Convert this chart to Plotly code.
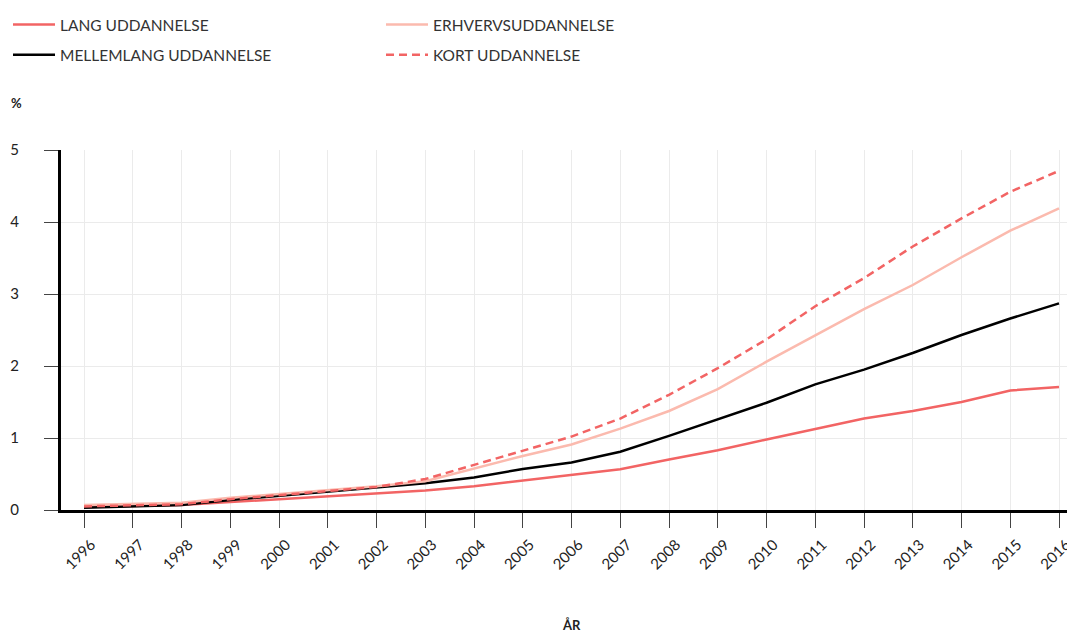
import plotly.graph_objects as go

years = list(range(1996, 2017))
lang = [0.04, 0.06, 0.07, 0.11, 0.15, 0.19, 0.23, 0.27, 0.33, 0.41, 0.49, 0.565, 0.70, 0.83, 0.98, 1.13, 1.27, 1.375, 1.50, 1.66, 1.71]
mellemlang = [0.03, 0.05, 0.07, 0.14, 0.20, 0.26, 0.31, 0.37, 0.45, 0.57, 0.66, 0.81, 1.03, 1.26, 1.49, 1.745, 1.95, 2.18, 2.43, 2.66, 2.87]
erhverv = [0.07, 0.09, 0.10, 0.17, 0.22, 0.28, 0.33, 0.40, 0.58, 0.75, 0.91, 1.13, 1.375, 1.68, 2.06, 2.42, 2.79, 3.125, 3.51, 3.88, 4.19]
kort = [0.05, 0.07, 0.08, 0.15, 0.21, 0.27, 0.32, 0.43, 0.625, 0.83, 1.02, 1.27, 1.60, 1.97, 2.37, 2.83, 3.22, 3.66, 4.05, 4.42, 4.71]

RED = "#f26464"
PINK = "#fbbaae"
FONT = "Lato"

# page body has an 8px default margin; compensate so the figure fills the window
OFF = 8
W, H = 1075 - OFF, 635 - OFF

fig = go.Figure()
fig.add_trace(go.Scatter(x=years, y=lang, mode="lines", name="LANG UDDANNELSE",
                         line=dict(color=RED, width=2.5), legend="legend", legendgroup="a"))
fig.add_trace(go.Scatter(x=years, y=mellemlang, mode="lines", name="MELLEMLANG UDDANNELSE",
                         line=dict(color="#000000", width=2.5), legend="legend", legendgroup="b"))
fig.add_trace(go.Scatter(x=years, y=erhverv, mode="lines", name="ERHVERVSUDDANNELSE",
                         line=dict(color=PINK, width=2.5), legend="legend2", legendgroup="c"))
fig.add_trace(go.Scatter(x=years, y=kort, mode="lines", name="KORT UDDANNELSE",
                         line=dict(color=RED, width=2.5, dash="8px,5px"), legend="legend2", legendgroup="d"))

legend_common = dict(
    xref="container", yref="container", xanchor="left", yanchor="top",
    orientation="v", traceorder="grouped", tracegroupgap=7,
    font=dict(family=FONT, size=15.5, color="#333333"),
    bgcolor="rgba(0,0,0,0)", itemwidth=42,
)

L, T, B = 61 - OFF, 150 - OFF, 125
PW = W - L
PH = H - T - B

def px(xp):
    return (xp - OFF - L) / PW

def py(yp):
    return (H - B - (yp - OFF)) / PH

LEG_Y = 1.0 + 4 / H

fig.update_layout(
    width=W, height=H,
    margin=dict(l=L, r=0, t=T, b=B, autoexpand=False),
    paper_bgcolor="white", plot_bgcolor="white",
    font=dict(family=FONT, size=14, color="#222222"),
    showlegend=True,
    legend=dict(x=0.0, y=LEG_Y, **legend_common),
    legend2=dict(x=(385 - 12) / W, y=LEG_Y, **legend_common),
    xaxis=dict(
        range=[1995.528, 2016.328],
        tickmode="array", tickvals=years, ticktext=[str(y) for y in years],
        tickangle=-45, ticks="outside", ticklen=15, tickwidth=1, tickcolor="#444444",
        showgrid=True, gridcolor="#ebebeb", gridwidth=1,
        showline=True, linecolor="#000000", linewidth=3,
        zeroline=False, ticklabelstandoff=2, ticklabelshift=7,
        tickfont=dict(family=FONT, size=15, color="#222222"),
    ),
    yaxis=dict(
        range=[0, 5], tickvals=[0, 1, 2, 3, 4, 5],
        ticks="outside", ticklen=14, tickwidth=1, tickcolor="#444444",
        showgrid=True, gridcolor="#ebebeb", gridwidth=1,
        showline=True, linecolor="#000000", linewidth=3,
        zeroline=False, ticklabelstandoff=22,
        tickfont=dict(family=FONT, size=15, color="#222222"),
    ),
    annotations=[
        dict(text="<b>%</b>", xref="paper", yref="paper",
             x=px(16), y=py(103), xanchor="center", yanchor="middle",
             showarrow=False, font=dict(family=FONT, size=13, color="#222222")),
        dict(text="<b>ÅR</b>", xref="paper", yref="paper",
             x=px(571), y=py(625), xanchor="center", yanchor="middle",
             showarrow=False, font=dict(family=FONT, size=13, color="#222222")),
    ],
)

fig.write_html("out.html")
